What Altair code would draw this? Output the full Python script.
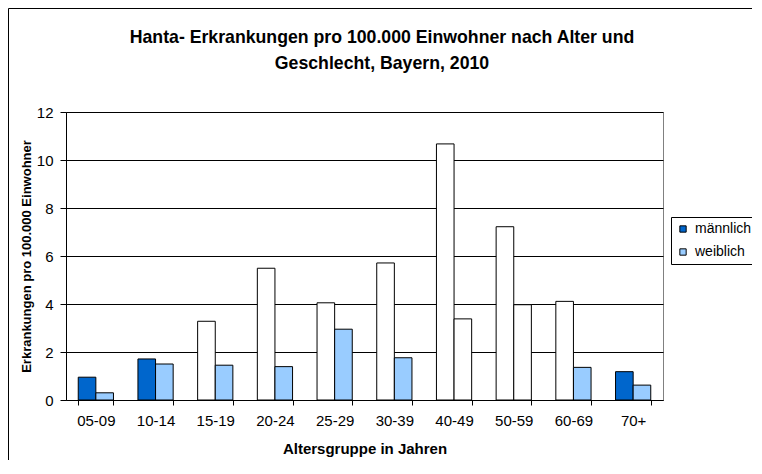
import altair as alt
import pandas as pd

groups = ["05-09", "10-14", "15-19", "20-24", "25-29", "30-39", "40-49", "50-59", "60-69", "70+"]
sexes = ["männlich", "weiblich"]
male = [0.95, 1.71, 3.28, 5.49, 4.05, 5.71, 10.67, 7.22, 4.11, 1.18]
female = [0.30, 1.50, 1.45, 1.39, 2.95, 1.76, 3.38, 3.97, 1.36, 0.62]
male_filled = [True, True, False, False, False, False, False, False, False, True]
female_filled = [True, True, True, True, True, True, False, False, True, True]
colors = ["#0066CC", "#99CCFF"]
title_lines = ["Hanta- Erkrankungen pro 100.000 Einwohner nach Alter und", "Geschlecht, Bayern, 2010"]

rows = []
for i, g in enumerate(groups):
    rows.append({"group": g, "sex": sexes[0], "value": male[i], "filled": male_filled[i]})
    rows.append({"group": g, "sex": sexes[1], "value": female[i], "filled": female_filled[i]})
df = pd.DataFrame(rows)

FONT = "Liberation Sans"
W, H = 597, 288
PL, PT, PR, PB = 58, 104, 89, 60

bars = alt.Chart(df).mark_bar(stroke="black", strokeWidth=1).encode(
    x=alt.X("group:N", sort=groups,
            scale=alt.Scale(paddingInner=0.41, paddingOuter=0.205),
            axis=alt.Axis(title="Altersgruppe in Jahren", labelAngle=0, tickBand="extent",
                          tickSize=5, tickColor="black", domainColor="black",
                          labelPadding=8, titlePadding=13, labelFontSize=15,
                          titleFontSize=15, titleFontWeight="bold", grid=False)),
    xOffset=alt.XOffset("sex:N", sort=sexes, scale=alt.Scale(domain=sexes)),
    y=alt.Y("value:Q", scale=alt.Scale(domain=[0, 12]),
            axis=alt.Axis(title="Erkrankungen pro 100.000 Einwohner", values=[0, 2, 4, 6, 8, 10, 12],
                          tickSize=6, tickColor="black", domainColor="black",
                          gridColor="black", gridWidth=1, labelPadding=7, titlePadding=3,
                          labelFontSize=15, titleFontSize=13, titleFontWeight="bold")),
    fill=alt.condition(
        "datum.filled",
        alt.Fill("sex:N", sort=sexes, scale=alt.Scale(domain=sexes, range=colors),
                 legend=alt.Legend(title=None, orient="none", legendX=605, legendY=105,
                                   strokeColor="black", padding=5, fillColor="white",
                                   symbolType="square", symbolSize=40,
                                   symbolStrokeColor="black", symbolStrokeWidth=1,
                                   labelFontSize=14, rowPadding=9, labelOffset=5,
                                   symbolOpacity=1)),
        alt.value("white"),
    ),
)

one = pd.DataFrame({"a": [0]})
left_edge = alt.Chart(one).mark_rule(color="black", strokeWidth=1).encode(
    x=alt.value(-PL + 0.5), y=alt.value(-PT + 0.5), y2=alt.value(H + PB),
)
top_edge = alt.Chart(one).mark_rule(color="black", strokeWidth=1).encode(
    x=alt.value(-PL + 0.5), x2=alt.value(W + PR), y=alt.value(-PT + 0.5),
)
title = alt.Chart(one).mark_text(
    text=title_lines, font=FONT, fontSize=17.7, fontWeight="bold", lineHeight=26,
    align="center", baseline="middle", color="black",
).encode(x=alt.value(316), y=alt.value(-74))

chart = alt.layer(left_edge, top_edge, title, bars).properties(
    width=W, height=H,
    autosize=alt.AutoSizeParams(type="none"),
    padding={"left": PL, "top": PT, "right": PR, "bottom": PB},
).configure(font=FONT).configure_view(
    stroke="#808080", strokeWidth=1
).configure_axis(labelColor="black", titleColor="black", labelFont=FONT, titleFont=FONT
).configure_legend(labelFont=FONT, labelColor="black")

chart.save("out.html", embed_options={"renderer": "svg", "actions": False})
